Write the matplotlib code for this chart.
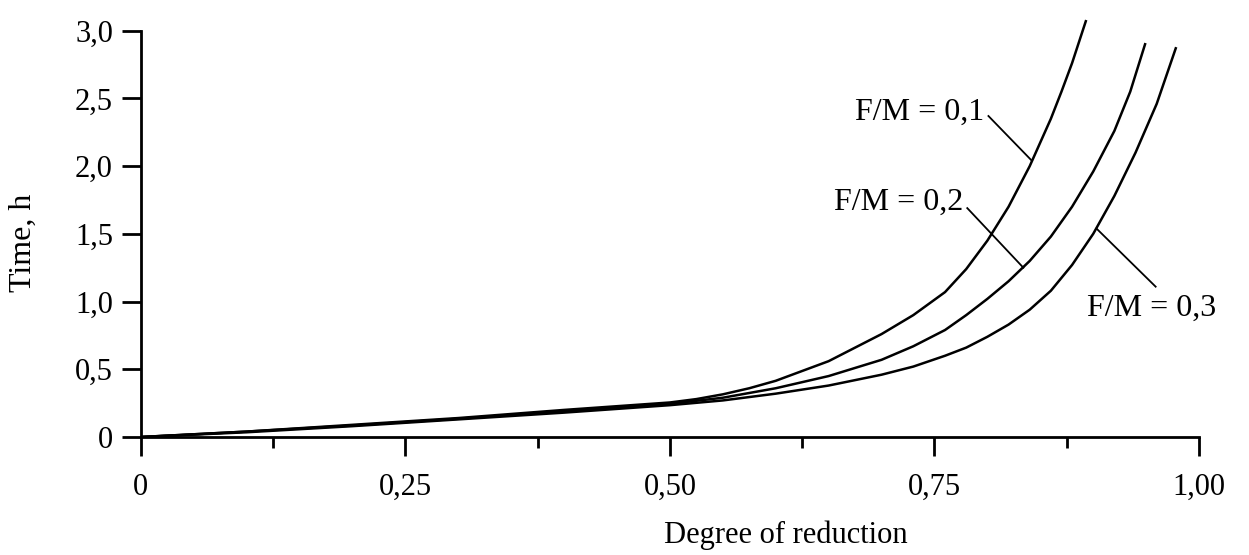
# Time vs degree of reduction for three F/M ratios
import numpy as np
import matplotlib
matplotlib.use('Agg')
import matplotlib.pyplot as plt

plt.rcParams['font.family'] = ['Liberation Serif', 'DejaVu Serif']

# values
deg1 = [0.0, 0.10, 0.20, 0.30, 0.40, 0.50, 0.525, 0.55, 0.575, 0.60, 0.65, 0.70, 0.73, 0.76,
        0.78, 0.80, 0.82, 0.84, 0.86, 0.87, 0.88, 0.893]
t_fm01 = [0.0, 0.04, 0.09, 0.14, 0.20, 0.255, 0.28, 0.315, 0.36, 0.415, 0.56, 0.76, 0.90, 1.07,
          1.24, 1.45, 1.70, 2.00, 2.35, 2.55, 2.76, 3.07]

deg2 = [0.0, 0.10, 0.20, 0.30, 0.40, 0.50, 0.55, 0.60, 0.65, 0.70, 0.73, 0.76, 0.78, 0.80,
        0.82, 0.84, 0.86, 0.88, 0.90, 0.92, 0.935, 0.949]
t_fm02 = [0.0, 0.04, 0.085, 0.135, 0.19, 0.245, 0.29, 0.36, 0.45, 0.57, 0.67, 0.79, 0.90, 1.02,
          1.15, 1.30, 1.48, 1.70, 1.96, 2.26, 2.55, 2.90]

deg3 = [0.0, 0.10, 0.20, 0.30, 0.40, 0.50, 0.55, 0.60, 0.65, 0.70, 0.73, 0.76, 0.78, 0.80,
        0.82, 0.84, 0.86, 0.88, 0.90, 0.92, 0.94, 0.96, 0.978]
t_fm03 = [0.0, 0.035, 0.08, 0.13, 0.18, 0.235, 0.27, 0.32, 0.38, 0.46, 0.52, 0.60, 0.66, 0.74,
          0.83, 0.94, 1.08, 1.27, 1.50, 1.78, 2.10, 2.46, 2.87]

curves = [(deg1, t_fm01), (deg2, t_fm02), (deg3, t_fm03)]
labels = ['F/M = 0,1', 'F/M = 0,2', 'F/M = 0,3']
# label text anchor, leader start, leader end (on curve)
lab_xy = [(0.797, 2.40), (0.777, 1.73), (0.955, 0.95)]
lab_ha = ['right', 'right', 'center']
lead_from = [(0.801, 2.37), (0.781, 1.69), (0.959, 1.11)]
lead_to = [(0.842, 2.04), (0.834, 1.25), (0.903, 1.54)]

xticks = [0, 0.25, 0.50, 0.75, 1.00]
xticklabels = ['0', '0,25', '0,50', '0,75', '1,00']
xminor = [0.125, 0.375, 0.625, 0.875]
yticks = [0, 0.5, 1.0, 1.5, 2.0, 2.5, 3.0]
yticklabels = ['0', '0,5', '1,0', '1,5', '2,0', '2,5', '3,0']

fig = plt.figure(figsize=(12.49, 5.55), dpi=100)
ax = fig.add_axes([0.1127, 0.2126, 0.8473, 0.7614])

for x, y in curves:
    ax.plot(x, y, color='black', lw=1.8, solid_joinstyle='round')

for i in range(3):
    ax.plot([lead_from[i][0], lead_to[i][0]], [lead_from[i][1], lead_to[i][1]],
            color='black', lw=1.3)
    ax.text(lab_xy[i][0], lab_xy[i][1], labels[i], ha=lab_ha[i], va='center', fontsize=23)

ax.set_xlim(0, 1.0)
ax.set_ylim(0, 3.12)
ax.spines['top'].set_visible(False)
ax.spines['right'].set_visible(False)
ax.spines['left'].set_linewidth(2.0)
ax.spines['bottom'].set_linewidth(2.0)
ax.spines['left'].set_bounds(0, 3.0)
ax.spines['bottom'].set_bounds(0, 1.0)

ax.set_xticks(xticks)
ax.set_xticklabels(xticklabels)
ax.set_xticks(xminor, minor=True)
ax.set_yticks(yticks)
ax.set_yticklabels(yticklabels)
ax.tick_params(axis='both', which='major', direction='out', length=14, width=2.0, labelsize=22)
ax.tick_params(axis='x', which='major', pad=12)
ax.tick_params(axis='y', which='major', pad=6)
ax.tick_params(axis='x', which='minor', direction='out', length=8, width=2.0)

ax.set_xlabel('Degree of reduction', fontsize=22)
ax.xaxis.set_label_coords(0.61, -0.198)
ax.set_ylabel('Time, h', fontsize=23)
ax.yaxis.set_label_coords(-0.097, 0.46)

plt.savefig('out.png', dpi=100)
